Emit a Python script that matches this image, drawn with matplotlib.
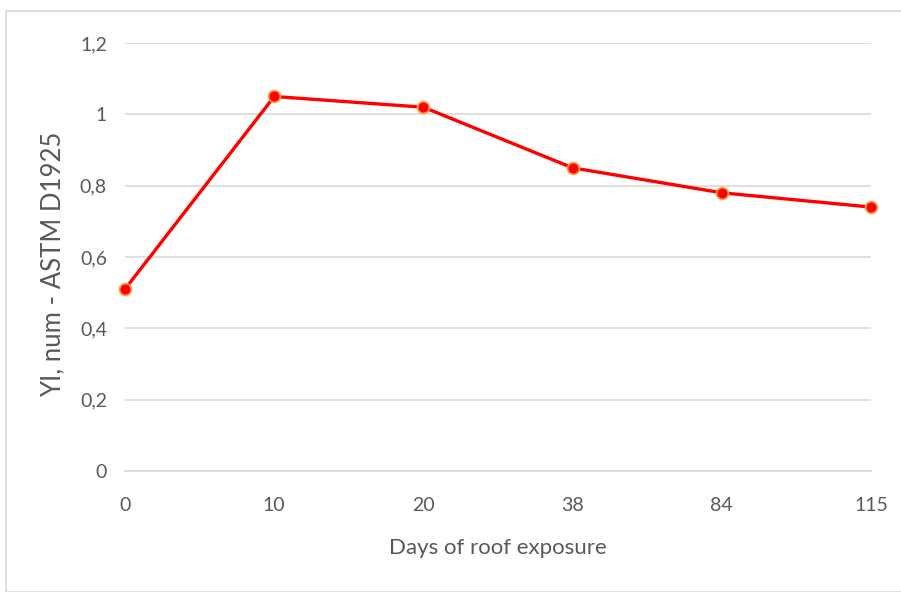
import matplotlib
matplotlib.use("Agg")
import matplotlib.pyplot as plt
from matplotlib.patches import Rectangle

categories = ["0", "10", "20", "38", "84", "115"]
yi_values = [0.51, 1.05, 1.02, 0.85, 0.78, 0.74]
y_ticks = [0, 0.2, 0.4, 0.6, 0.8, 1.0, 1.2]
y_tick_labels = ["0", "0,2", "0,4", "0,6", "0,8", "1", "1,2"]

plt.rcParams['font.family'] = ['Lato', 'DejaVu Sans']

fig = plt.figure(figsize=(9.01, 5.92), dpi=100)
fig.patches.append(Rectangle((6/901, 0), 1.0, 1 - 11/592, transform=fig.transFigure,
                             fill=False, edgecolor="#d9d9d9", linewidth=1.2))
ax = fig.add_axes([125/901, 1 - 471/592, (871 - 125)/901, (471 - 43)/592])

x = list(range(len(categories)))
ax.plot(x, yi_values, color="#ff0000", linewidth=2.4, marker="o", markersize=8.5,
        markerfacecolor="#ff0000", markeredgecolor="#f7a04a", markeredgewidth=1.3,
        zorder=3, clip_on=False)

ax.set_xlim(0, len(categories) - 1)
ax.set_ylim(0, 1.2)
ax.set_yticks(y_ticks)
ax.set_yticklabels(y_tick_labels)
ax.set_xticks(x)
ax.set_xticklabels(categories)
ax.grid(axis="y", color="#d9d9d9", linewidth=1.2)
ax.set_axisbelow(True)
for s in ["top", "right", "left"]:
    ax.spines[s].set_visible(False)
ax.spines["bottom"].set_color("#d9d9d9")
ax.spines["bottom"].set_linewidth(1.2)
ax.tick_params(axis="both", length=0, labelsize=14, labelcolor="#595959")
ax.tick_params(axis="y", pad=13)
ax.tick_params(axis="x", pad=19)
ax.set_xlabel("Days of roof exposure", fontsize=16, color="#595959", labelpad=17)
ax.set_ylabel("YI, num - ASTM D1925", fontsize=18.5, color="#595959")
ax.yaxis.set_label_coords(-0.080, 0.482)

fig.savefig("out.png", dpi=100)
